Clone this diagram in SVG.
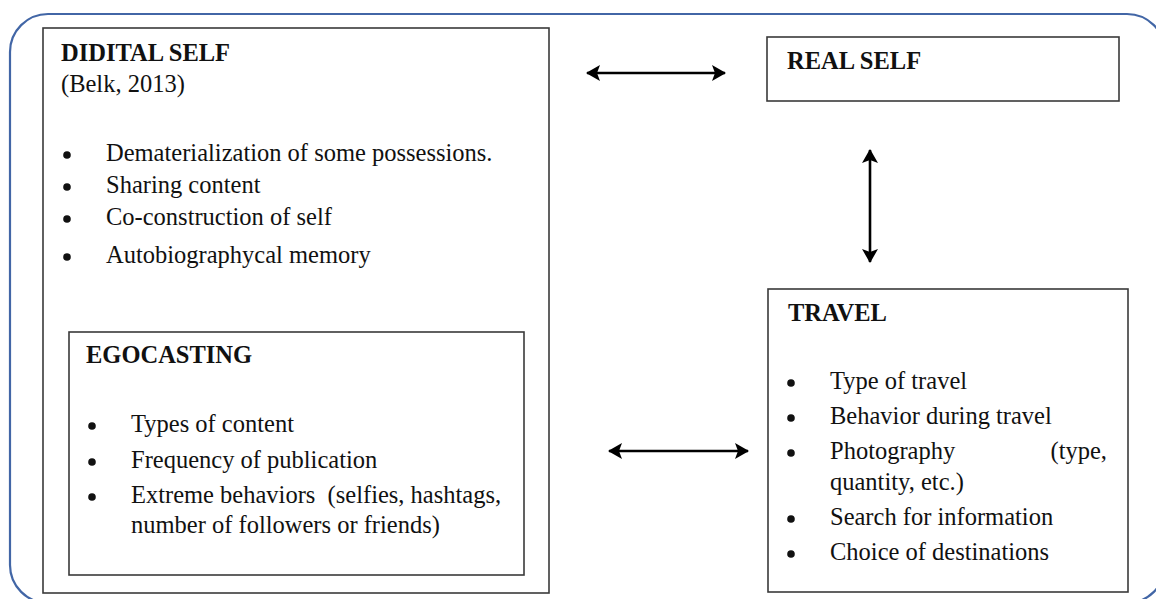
<svg xmlns="http://www.w3.org/2000/svg" width="1156" height="599" viewBox="0 0 1156 599">
<defs>
<marker id="ah" viewBox="0 0 14 16" refX="13" refY="8" markerWidth="14" markerHeight="16" markerUnits="userSpaceOnUse" orient="auto-start-reverse">
<path d="M0,0 L14,8 L0,16 L3,8 Z" fill="#000"/>
</marker>
</defs>
<style>
.box{fill:#fff;stroke:#3a3a3a;stroke-width:1.6}
.t{font-family:"Liberation Serif","Times New Roman",serif;font-size:24.5px;fill:#111}
.h{font-weight:bold}
.b{fill:#111}
.c{stroke:#000;stroke-width:2.6;fill:none;marker-start:url(#ah);marker-end:url(#ah)}
</style>
<rect x="10" y="14" width="1155" height="589" rx="38" ry="38" fill="#fff" stroke="#4266a6" stroke-width="2.2"/>
<g id="digital-self">
<rect class="box" x="43" y="28" width="506" height="565"/>
<text class="t h" x="61" y="61">DIDITAL SELF</text>
<text class="t" x="61" y="92">(Belk, 2013)</text>
<circle class="b" cx="67" cy="155" r="3.8"/><text class="t" x="106" y="161">Dematerialization of some possessions.</text>
<circle class="b" cx="67" cy="187" r="3.8"/><text class="t" x="106" y="193">Sharing content</text>
<circle class="b" cx="67" cy="219" r="3.8"/><text class="t" x="106" y="225">Co-construction of self</text>
<circle class="b" cx="67" cy="257" r="3.8"/><text class="t" x="106" y="263">Autobiographycal memory</text>
</g>
<g id="egocasting">
<rect class="box" x="69" y="332" width="455" height="243"/>
<text class="t h" x="86" y="363">EGOCASTING</text>
<circle class="b" cx="92" cy="426" r="3.8"/><text class="t" x="131" y="432">Types of content</text>
<circle class="b" cx="92" cy="462" r="3.8"/><text class="t" x="131" y="468">Frequency of publication</text>
<circle class="b" cx="92" cy="497" r="3.8"/><text class="t" x="131" y="503" xml:space="preserve">Extreme behaviors  (selfies, hashtags,</text>
<text class="t" x="131" y="533">number of followers or friends)</text>
</g>
<g id="real-self">
<rect class="box" x="767" y="37" width="352" height="64"/>
<text class="t h" x="787" y="69">REAL SELF</text>
</g>
<g id="travel">
<rect class="box" x="768" y="289" width="360" height="303"/>
<text class="t h" x="788" y="321">TRAVEL</text>
<circle class="b" cx="791" cy="383" r="3.8"/><text class="t" x="830" y="389">Type of travel</text>
<circle class="b" cx="791" cy="418" r="3.8"/><text class="t" x="830" y="424">Behavior during travel</text>
<circle class="b" cx="791" cy="453" r="3.8"/><text class="t" x="830" y="459">Photography</text>
<text class="t" x="1107" y="459" text-anchor="end">(type,</text>
<text class="t" x="830" y="490">quantity, etc.)</text>
<circle class="b" cx="791" cy="519" r="3.8"/><text class="t" x="830" y="525">Search for information</text>
<circle class="b" cx="791" cy="554" r="3.8"/><text class="t" x="830" y="560">Choice of destinations</text>
</g>
<g id="connectors">
<path class="c" d="M587,73 L725,73"/>
<path class="c" d="M870,150 L870,262"/>
<path class="c" d="M609,451 L748,451"/>
</g>
</svg>
